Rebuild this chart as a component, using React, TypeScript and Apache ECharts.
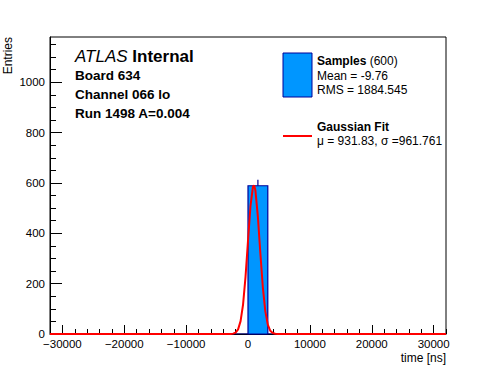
import React, { useEffect, useRef } from "react";
import * as echarts from "echarts";

const binLo = [0];
const binHi = [3200];
const binCounts = [589];
const binErrors = [24.3];

const fitX = [-32000, -3600, -3200, -2800, -2400, -2000, -1600, -1200, -800, -400, 0, 400, 800, 1000, 1200, 1600, 2000, 2400, 2800, 3200, 3600, 4000, 4400, 4800, 5200, 32000];
const fitY = [0, 0.01, 0.06, 0.3, 1.5, 5.7, 18.5, 51, 117, 227, 370, 508, 586, 590, 570, 465, 320, 185, 90, 37, 12.6, 3.7, 0.9, 0.2, 0.03, 0];

const xMajor = [-30000, -20000, -10000, 0, 10000, 20000, 30000];
const xMinor = [-32000, -28000, -26000, -24000, -22000, -18000, -16000, -14000, -12000, -8000, -6000, -4000, -2000, 2000, 4000, 6000, 8000, 12000, 14000, 16000, 18000, 22000, 24000, 26000, 28000, 32000];
const yMajor = [0, 200, 400, 600, 800, 1000];
const yMinor = [50, 100, 150, 250, 300, 350, 450, 500, 550, 650, 700, 750, 850, 900, 950, 1050, 1100, 1150];

const FONT = "'Liberation Sans', Arial, Helvetica, sans-serif";

export default function App() {
  const ref = useRef<HTMLDivElement>(null);
  useEffect(() => {
    const chart = echarts.init(ref.current!, null, { renderer: "svg" });
    const fmt = (v: number) => String(v).replace("-", "\u2212");
    const baseAxis = {
      type: "value" as const,
      splitLine: { show: false },
    };
    chart.setOption({
      animation: false,
      backgroundColor: "#fff",
      grid: { left: 50, right: 50, top: 37, bottom: 38, show: true, borderColor: "#000", borderWidth: 1, backgroundColor: "transparent" },
      xAxis: [
        {
          ...baseAxis,
          min: -32000,
          max: 32000,
          position: "bottom",
          axisLine: { show: true, onZero: false, lineStyle: { color: "#000", width: 1 } },
          axisTick: { show: true, inside: true, length: 9, customValues: xMajor, lineStyle: { color: "#000" } },
          axisLabel: { show: true, customValues: xMajor, formatter: fmt, color: "#000", fontSize: 11.5, fontFamily: FONT, margin: 4 },
        },
        {
          ...baseAxis,
          min: -32000,
          max: 32000,
          position: "bottom",
          axisLine: { show: false, onZero: false },
          axisTick: { show: true, inside: true, length: 5, customValues: xMinor, lineStyle: { color: "#000" } },
          axisLabel: { show: false },
        },
      ],
      yAxis: [
        {
          ...baseAxis,
          min: 0,
          max: 1180,
          position: "left",
          axisLine: { show: true, onZero: false, lineStyle: { color: "#000", width: 1 } },
          axisTick: { show: true, inside: true, length: 12, customValues: yMajor, lineStyle: { color: "#000" } },
          axisLabel: { show: true, customValues: yMajor, formatter: (v: number) => String(v), color: "#000", fontSize: 11.5, fontFamily: FONT, margin: 5 },
        },
        {
          ...baseAxis,
          min: 0,
          max: 1180,
          position: "left",
          axisLine: { show: false, onZero: false },
          axisTick: { show: true, inside: true, length: 6, customValues: yMinor, lineStyle: { color: "#000" } },
          axisLabel: { show: false },
        },
      ],
      series: [
        {
          type: "line",
          data: [[-32000, 0], [32000, 0]],
          symbol: "none",
          lineStyle: { color: "#000099", width: 1 },
          z: 2,
        },
        {
          type: "custom",
          data: binLo.map((lo, i) => [lo, binHi[i], binCounts[i], binErrors[i]]),
          renderItem: (params: any, api: any) => {
            const lo = api.value(0), hi = api.value(1), c = api.value(2), e = api.value(3);
            const p0 = api.coord([lo, c]);
            const p1 = api.coord([hi, 0]);
            const pc = api.coord([(lo + hi) / 2, c + e]);
            const pd = api.coord([(lo + hi) / 2, c]);
            return {
              type: "group",
              children: [
                { type: "rect", shape: { x: p0[0], y: p0[1], width: p1[0] - p0[0], height: p1[1] - p0[1] }, style: { fill: "#0096ff", stroke: "#000099", lineWidth: 1.2 } },
                { type: "line", shape: { x1: pc[0], y1: pc[1], x2: pd[0], y2: pd[1] }, style: { stroke: "#000099", lineWidth: 1.2 } },
              ],
            };
          },
          z: 3,
        },
        {
          type: "line",
          data: fitX.map((x, i) => [x, fitY[i]]),
          symbol: "none",
          smooth: false,
          lineStyle: { color: "#ff0000", width: 2 },
          z: 5,
        },
      ],
      graphic: [
        { type: "text", left: 75, top: 48, style: { rich: { a: { fontStyle: "italic", fontSize: 17, fontFamily: FONT }, b: { fontWeight: "bold", fontSize: 17, fontFamily: FONT } }, text: "{a|ATLAS }{b|Internal}", fill: "#000" } },
        { type: "text", left: 75, top: 68, style: { text: "Board 634", fontWeight: "bold", fontSize: 13.5, fontFamily: FONT, fill: "#000" } },
        { type: "text", left: 75, top: 87, style: { text: "Channel 066 lo", fontWeight: "bold", fontSize: 13.5, fontFamily: FONT, fill: "#000" } },
        { type: "text", left: 75, top: 106, style: { text: "Run 1498 A=0.004", fontWeight: "bold", fontSize: 13.5, fontFamily: FONT, fill: "#000" } },
        { type: "rect", shape: { x: 283, y: 53, width: 29, height: 44 }, style: { fill: "#0096ff", stroke: "#000099", lineWidth: 1 } },
        { type: "text", left: 317, top: 55, style: { rich: { b: { fontWeight: "bold", fontSize: 12, fontFamily: FONT }, n: { fontSize: 12, fontFamily: FONT } }, text: "{b|Samples} {n|(600)}", fill: "#000" } },
        { type: "text", left: 317, top: 70, style: { text: "Mean = -9.76", fontSize: 12, fontFamily: FONT, fill: "#000" } },
        { type: "text", left: 317, top: 84, style: { text: "RMS = 1884.545", fontSize: 12, fontFamily: FONT, fill: "#000" } },
        { type: "line", shape: { x1: 283, y1: 136, x2: 312, y2: 136 }, style: { stroke: "#ff0000", lineWidth: 2 } },
        { type: "text", left: 317, top: 121, style: { text: "Gaussian Fit", fontWeight: "bold", fontSize: 12, fontFamily: FONT, fill: "#000" } },
        { type: "text", left: 317, top: 135, style: { text: "\u03bc = 931.83, \u03c3 =961.761", fontSize: 12, fontFamily: FONT, fill: "#000" } },
        { type: "text", right: 50, top: 352, style: { text: "time [ns]", fontSize: 12, fontFamily: FONT, fill: "#000" } },
        { type: "text", x: 2, y: 37, rotation: Math.PI / 2, style: { text: "Entries", fontSize: 12, fontFamily: FONT, fill: "#000", align: "right", verticalAlign: "top" } },
      ],
    });
    return () => chart.dispose();
  }, []);
  return <div ref={ref} style={{ position: "fixed", left: 0, top: 0, width: 496, height: 372 }} />;
}
